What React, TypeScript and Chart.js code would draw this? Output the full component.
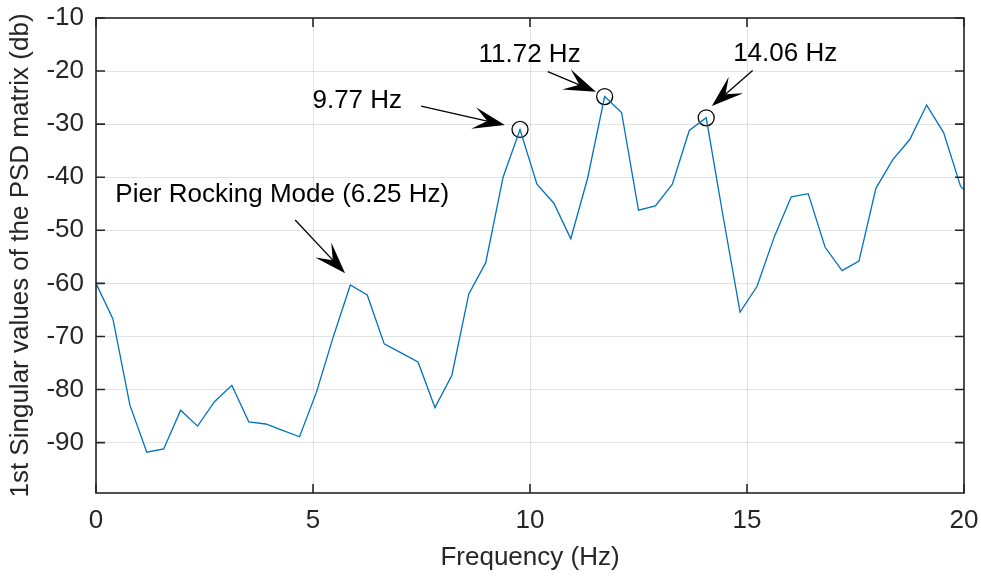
import React, { useEffect, useRef } from 'react';
import { Chart, registerables } from 'chart.js';

Chart.register(...registerables);

// Frequency bins (Hz)
const frequencies = [
  0, 0.39, 0.78, 1.17, 1.56, 1.95, 2.34, 2.73, 3.13, 3.52,
  3.91, 4.3, 4.69, 5.08, 5.47, 5.86, 6.25, 6.64, 7.03, 7.42,
  7.81, 8.2, 8.59, 8.98, 9.38, 9.77, 10.16, 10.55, 10.94, 11.33,
  11.72, 12.11, 12.5, 12.89, 13.28, 13.67, 14.06, 14.45, 14.84, 15.23,
  15.63, 16.02, 16.41, 16.8, 17.19, 17.58, 17.97, 18.36, 18.75, 19.14,
  19.53, 19.92, 20.31,
];

// 1st singular value of PSD matrix (dB)
const singularValuesDb = [
  -60.0, -66.7, -82.9, -91.8, -91.2, -83.9, -86.9, -82.3, -79.2, -86.1,
  -86.5, -87.7, -88.9, -80.5, -70.0, -60.3, -62.2, -71.4, -73.1, -74.8,
  -83.4, -77.3, -62.0, -56.1, -40.0, -31.0, -41.3, -44.9, -51.6, -40.1,
  -24.8, -27.8, -46.2, -45.4, -41.3, -31.2, -28.8, -47.4, -65.4, -60.6,
  -51.2, -43.7, -43.1, -53.2, -57.6, -55.8, -42.1, -36.7, -32.9, -26.4,
  -31.6, -41.7, -45.0,
];

// Indices of the circled peaks
const peakIndices = [25, 30, 36];

const xTicks = [0, 5, 10, 15, 20];
const yTicks = [-90, -80, -70, -60, -50, -40, -30, -20, -10];

const xTitle = 'Frequency (Hz)';
const yTitle = '1st Singular values of the PSD matrix (db)';

// Annotation labels (text anchor and arrow in data coordinates)
const annotationTexts = ['9.77 Hz', '11.72 Hz', '14.06 Hz', 'Pier Rocking Mode (6.25 Hz)'];
const annotationTextAt = [
  [6.02, -27.0],
  [9.99, -18.2],
  [15.88, -18.05],
  [4.29, -44.6],
];
const annotationArrowFrom = [
  [7.49, -26.6],
  [10.41, -20.1],
  [15.13, -19.9],
  [4.59, -48.06],
];
const annotationArrowTo = [
  [9.42, -30.16],
  [11.52, -23.9],
  [14.19, -26.58],
  [5.74, -58.1],
];

const FONT = "'Liberation Sans', Arial, Helvetica, sans-serif";
const AXIS_COLOR = '#262626';

const boxPlugin = {
  id: 'matlabBox',
  afterDraw(chart: any) {
    const { ctx, chartArea, scales } = chart;
    const { left, right, top, bottom } = chartArea;
    const xs = scales.x;
    const ys = scales.y;
    ctx.save();
    ctx.strokeStyle = AXIS_COLOR;
    ctx.lineWidth = 1.6;
    ctx.strokeRect(left, top, right - left, bottom - top);
    const tl = 9;
    ctx.beginPath();
    xTicks.forEach((v) => {
      const px = xs.getPixelForValue(v);
      ctx.moveTo(px, bottom);
      ctx.lineTo(px, bottom - tl);
      ctx.moveTo(px, top);
      ctx.lineTo(px, top + tl);
    });
    yTicks.forEach((v) => {
      const py = ys.getPixelForValue(v);
      ctx.moveTo(left, py);
      ctx.lineTo(left + tl, py);
      ctx.moveTo(right, py);
      ctx.lineTo(right - tl, py);
    });
    ctx.stroke();

    // annotations
    ctx.fillStyle = '#000';
    ctx.strokeStyle = '#000';
    ctx.font = `26px ${FONT}`;
    ctx.textAlign = 'center';
    ctx.textBaseline = 'alphabetic';
    annotationTexts.forEach((t, i) => {
      const tx = xs.getPixelForValue(annotationTextAt[i][0]);
      const ty = ys.getPixelForValue(annotationTextAt[i][1]);
      ctx.fillText(t, tx, ty);

      const x1 = xs.getPixelForValue(annotationArrowFrom[i][0]);
      const y1 = ys.getPixelForValue(annotationArrowFrom[i][1]);
      const x2 = xs.getPixelForValue(annotationArrowTo[i][0]);
      const y2 = ys.getPixelForValue(annotationArrowTo[i][1]);
      const dx = x2 - x1;
      const dy = y2 - y1;
      const len = Math.hypot(dx, dy);
      const ux = dx / len;
      const uy = dy / len;
      const nx = -uy;
      const ny = ux;
      const L = 32;
      const W = 11;
      const notch = 18;
      ctx.lineWidth = 1.3;
      ctx.beginPath();
      ctx.moveTo(x1, y1);
      ctx.lineTo(x2 - ux * notch, y2 - uy * notch);
      ctx.stroke();
      ctx.beginPath();
      ctx.moveTo(x2, y2);
      ctx.lineTo(x2 - ux * L + nx * W, y2 - uy * L + ny * W);
      ctx.lineTo(x2 - ux * notch, y2 - uy * notch);
      ctx.lineTo(x2 - ux * L - nx * W, y2 - uy * L - ny * W);
      ctx.closePath();
      ctx.fill();
    });
    ctx.restore();
  },
};

export default function App() {
  const canvasRef = useRef<HTMLCanvasElement | null>(null);

  useEffect(() => {
    document.body.style.margin = '0';
    const canvas = canvasRef.current;
    if (!canvas) return;
    const lineData = frequencies.map((f, i) => ({ x: f, y: singularValuesDb[i] }));
    const peakData = peakIndices.map((i) => ({ x: frequencies[i], y: singularValuesDb[i] }));

    const chart = new Chart(canvas, {
      type: 'line',
      data: {
        datasets: [
          {
            data: lineData,
            borderColor: '#0072BD',
            borderWidth: 1.3,
            pointRadius: 0,
            tension: 0,
            fill: false,
          },
          {
            data: peakData,
            showLine: false,
            pointRadius: 8,
            pointHoverRadius: 8,
            pointBorderColor: '#000',
            pointBackgroundColor: 'rgba(0,0,0,0)',
            pointBorderWidth: 1.3,
            borderColor: '#000',
          },
        ],
      },
      options: {
        animation: false,
        responsive: false,
        devicePixelRatio: 1,
        layout: { padding: { top: 18, right: 17, left: 0, bottom: 0 } },
        plugins: { legend: { display: false }, tooltip: { enabled: false } },
        events: [],
        scales: {
          x: {
            type: 'linear',
            min: 0,
            max: 20,
            afterBuildTicks: (scale: any) => {
              scale.ticks = xTicks.map((v) => ({ value: v }));
            },
            afterFit: (scale: any) => {
              scale.height = 84;
              scale.paddingLeft = 0;
              scale.paddingRight = 0;
              scale.paddingTop = 0;
              scale.paddingBottom = 0;
            },
            ticks: {
              font: { family: FONT, size: 26 },
              color: AXIS_COLOR,
              padding: 12,
              maxRotation: 0,
              autoSkip: false,
            },
            grid: { color: 'rgba(38,38,38,0.13)', lineWidth: 1, drawTicks: false },
            border: { display: false },
            title: {
              display: true,
              text: xTitle,
              font: { family: FONT, size: 26 },
              color: AXIS_COLOR,
              padding: { top: 0, bottom: 4 },
            },
          },
          y: {
            type: 'linear',
            min: -99.5,
            max: -10,
            afterBuildTicks: (scale: any) => {
              scale.ticks = yTicks.map((v) => ({ value: v }));
            },
            afterFit: (scale: any) => {
              scale.width = 96;
              scale.paddingLeft = 0;
              scale.paddingRight = 0;
              scale.paddingTop = 0;
              scale.paddingBottom = 0;
            },
            ticks: {
              font: { family: FONT, size: 26 },
              color: AXIS_COLOR,
              padding: 12,
              autoSkip: false,
            },
            grid: { color: 'rgba(38,38,38,0.13)', lineWidth: 1, drawTicks: false },
            border: { display: false },
            title: {
              display: true,
              text: yTitle,
              font: { family: FONT, size: 26 },
              color: AXIS_COLOR,
              padding: { top: 5, bottom: 0 },
            },
          },
        },
      },
      plugins: [boxPlugin],
    });
    return () => chart.destroy();
  }, []);

  return (
    <div style={{ width: 981, height: 577 }}>
      <canvas ref={canvasRef} width={981} height={577} />
    </div>
  );
}
